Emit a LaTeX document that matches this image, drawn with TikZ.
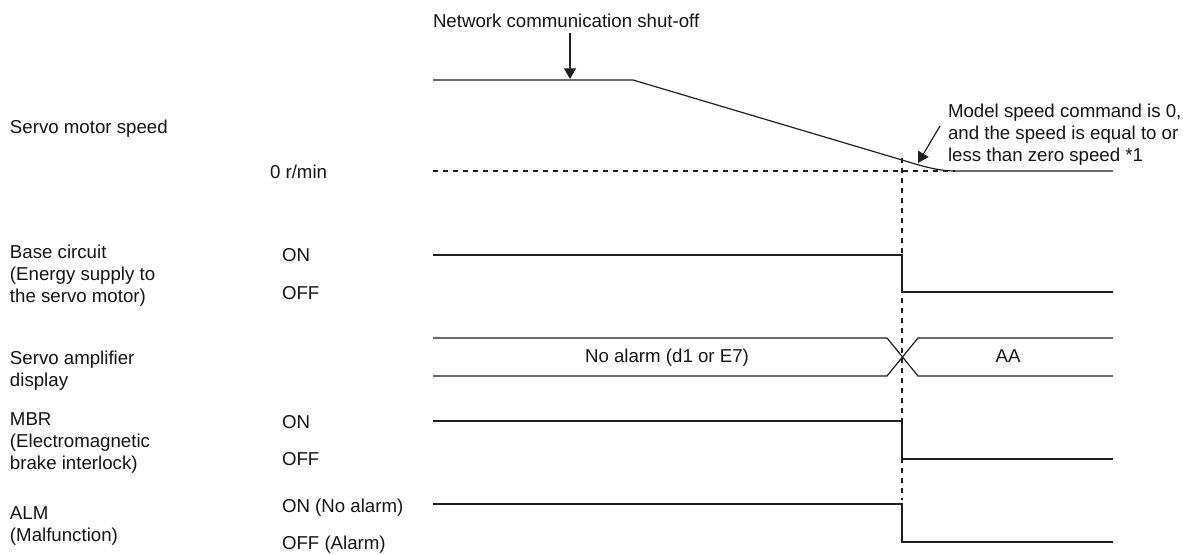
\documentclass[tikz,border=0pt]{standalone}
\usepackage{fontspec}
\setmainfont{Liberation Sans}
\usetikzlibrary{arrows.meta}
\begin{document}
\begin{tikzpicture}[x=0.75pt,y=-0.75pt,
  lbl/.style={anchor=base west, inner sep=0pt, outer sep=0pt, align=left,
    font=\fontsize{14}{16.5}\selectfont, text=black!92},
  ctr/.style={anchor=base, inner sep=0pt, outer sep=0pt,
    font=\fontsize{14}{16.5}\selectfont, text=black!92},
  sig/.style={line width=0.9pt, draw=black!88},
  dsh/.style={line width=0.8pt, draw=black!88, dash pattern=on 3.75pt off 3.75pt},
  arr/.style={sig, -{Triangle[length=8pt,width=9pt]}}]
\useasboundingbox (0,0) rectangle (1183,555);

% left labels (multi-line nodes: base = baseline of last line)
\node[lbl] (lspeed) at (10,134) {Servo motor speed};
\node[lbl] (lzero) at (270,179) {0 r/min};
\node[lbl] (lbase) at (10,303) {Base circuit\\(Energy supply to\\the servo motor)};
\node[lbl] (lbon) at (282,262) {ON};
\node[lbl] (lboff) at (282,299.5) {OFF};
\node[lbl] (ldisp) at (10,387) {Servo amplifier\\display};
\node[lbl] (lmbr) at (10,470) {MBR\\(Electromagnetic\\brake interlock)};
\node[lbl] (lmon) at (282,429) {ON};
\node[lbl] (lmoff) at (282,466) {OFF};
\node[lbl] (lalm) at (10,541.5) {ALM\\(Malfunction)};
\node[lbl] (laon) at (282,513) {ON (No alarm)};
\node[lbl] (laoff) at (282,550) {OFF (Alarm)};

% top annotation
\node[lbl] (net) at (433,28) {Network communication shut-off};
\coordinate (netTip) at (570,79);
\draw[arr, shorten <=3.5pt] (net.south -| netTip) -- (netTip);

% speed trace
\draw[dsh] (433,171) -- (955,171);
\draw[dsh] (902,158) -- (902,500);
\draw[sig] (433,80) -- (633,80) -- (895,157.9)
  .. controls (915,163.8) and (935,171) .. (955,171) -- (1113,171);

\node[lbl] (ann) at (948,162) {Model speed command is 0,\\and the speed is equal to or\\less than zero speed *1};
\coordinate (annStart) at (940,126);
\coordinate (annTip) at (918,163);
\draw[arr] (annStart) -- (annTip);

% base circuit
\draw[sig] (433,255) -- (902,255) -- (902,292) -- (1113,292);

% display
\draw[sig] (433,338) -- (887,338) -- (918,376) -- (1113,376);
\draw[sig] (433,376) -- (887,376) -- (918,338) -- (1113,338);
\node[ctr] (noalm) at (667,363) {No alarm (d1 or E7)};
\node[ctr] (aa) at (1008,363) {AA};

% MBR
\draw[sig] (433,421) -- (902,421) -- (902,459) -- (1113,459);

% ALM
\draw[sig] (433,504) -- (902,504) -- (902,542) -- (1113,542);
\end{tikzpicture}
\end{document}
